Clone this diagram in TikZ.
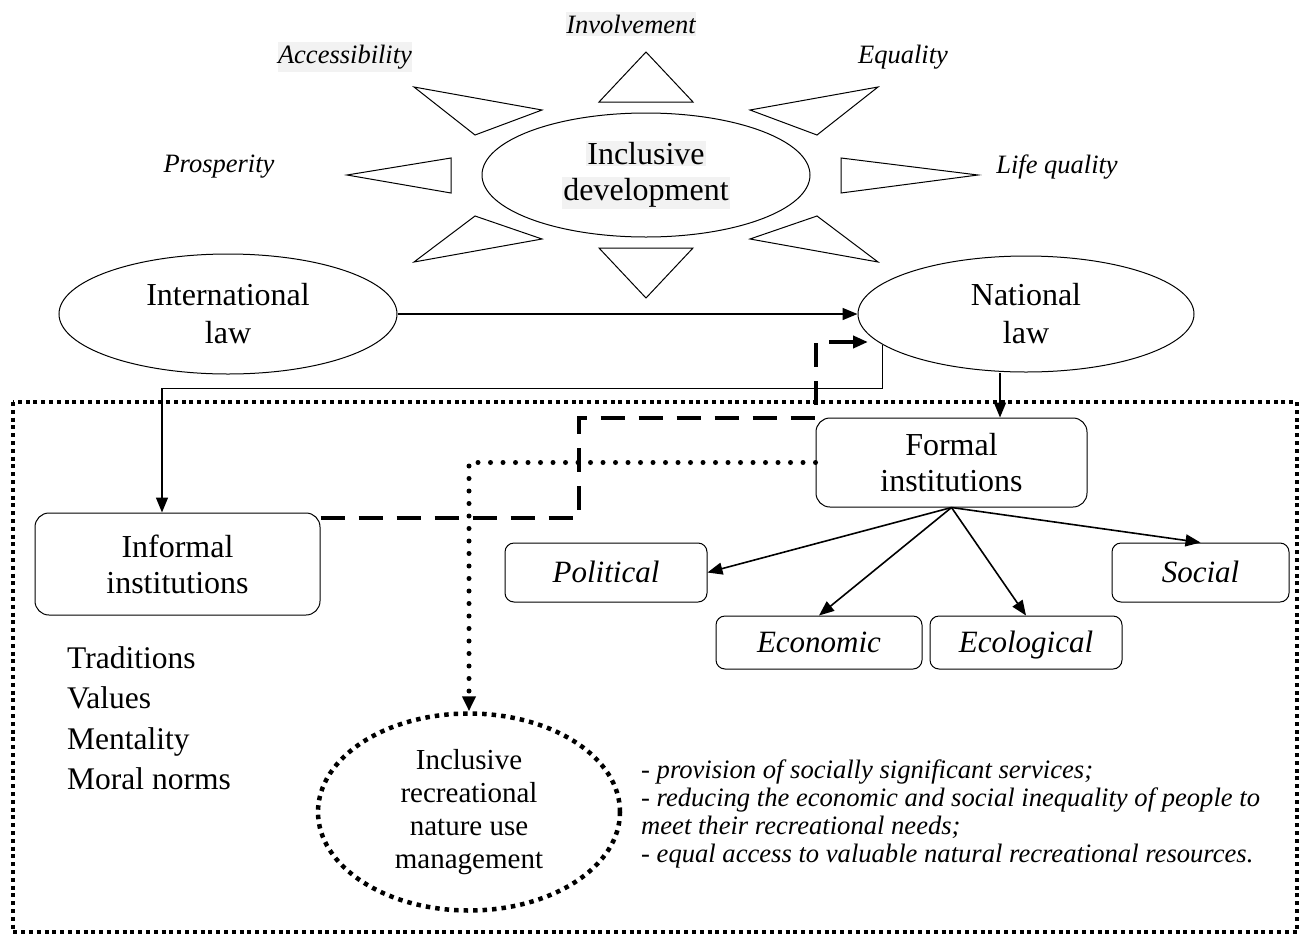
\documentclass[tikz,border=0pt]{standalone}
\usepackage{fontspec}
\setmainfont{Liberation Serif}
\usetikzlibrary{arrows.meta,shapes.geometric}
\definecolor{hl}{HTML}{F2F2F2}
\begin{document}
\begin{tikzpicture}[x=1pt,y=-1pt,
  ray/.style={draw=black, line width=1pt, line join=miter},
  oval/.style={draw, ellipse, line width=1pt, inner sep=0pt, align=center, font=\fontsize{32}{38}\selectfont},
  inst/.style={draw, rounded corners=14pt, line width=1pt, align=center, inner sep=0pt, font=\fontsize{32}{36}\selectfont},
  kind/.style={draw, rounded corners=9pt, line width=1pt, inner sep=0pt, text height=25pt, text depth=5pt, font=\fontsize{31}{35}\selectfont\itshape},
  lab/.style={font=\fontsize{26.5}{30}\selectfont\itshape, inner xsep=0pt, inner ysep=3pt},
  tip/.style={-{Triangle[length=15pt,width=12pt]}},
  arr/.style={line width=1.6pt, tip},
  dashline/.style={line width=4pt, dash pattern=on 24pt off 14pt, tip},
  dotline/.style={line width=5pt, line cap=round, dash pattern=on 0pt off 12.5pt, -{Triangle[length=15pt,width=13pt,line cap=butt]}},
  border/.style={line width=4pt, dash pattern=on 4pt off 3.8pt},
  irnstyle/.style={draw, ellipse, line width=4.5pt, dash pattern=on 4.5pt off 5pt, inner sep=0pt, align=center, font=\fontsize{29}{33}\selectfont}
]
\useasboundingbox (0,0) rectangle (1306,940);

% sun rays
\draw[ray] (646,52) -- (599,102) -- (693,102) -- cycle;
\draw[ray] (414,87) -- (542,110) -- (475,135) -- cycle;
\draw[ray] (878,87) -- (750,110) -- (817,135) -- cycle;
\draw[ray] (347,175) -- (451,158) -- (451,193) -- cycle;
\draw[ray] (978,175) -- (841,158) -- (841,193) -- cycle;
\draw[ray] (475,216) -- (542,239) -- (414,262) -- cycle;
\draw[ray] (817,216) -- (750,239) -- (878,262) -- cycle;
\draw[ray] (599,248) -- (693,248) -- (646,298) -- cycle;

% labels around the sun
\node[lab, fill=hl] (involv) at (631,24) {Involvement};
\node[lab, fill=hl] (access) at (345,57) {Accessibility};
\node[lab] (equal) at (903,57) {Equality};
\node[lab] (prosp) at (219,167) {Prosperity};
\node[lab] (lifeq) at (1057,167) {Life quality};

% central ellipse
\node[oval, minimum width=328pt, minimum height=124pt, font=\fontsize{32}{36}\selectfont] (incdev) at (646,175)
  {\setlength{\fboxsep}{1pt}\colorbox{hl}{Inclusive}\\\setlength{\fboxsep}{1pt}\colorbox{hl}{development}};

% law ellipses
\node[oval, minimum width=338pt, minimum height=120pt] (intl) at (228,314) {International\\law};
\node[oval, minimum width=336pt, minimum height=116pt] (natl) at (1026,314) {National\\law};

% outer dotted frame
\draw[border] (13,402) rectangle (1297,932);

% institutions
\node[inst, minimum width=285pt, minimum height=102pt] (informal) at (177.5,564) {Informal\\institutions};
\node[inst, minimum width=271pt, minimum height=89pt] (formal) at (951.5,462.5) {Formal\\institutions};

\node[kind, minimum width=202pt, minimum height=59pt] (political) at (606,572.5) {Political};
\node[kind, minimum width=177pt, minimum height=59pt] (social) at (1200.5,572.5) {Social};
\node[kind, minimum width=206pt, minimum height=53pt] (economic) at (819,642.5) {Economic};
\node[kind, minimum width=192pt, minimum height=53pt] (ecological) at (1026,642.5) {Ecological};

% informal list
\node[anchor=north west, align=left, inner sep=0pt, font=\fontsize{31.5}{40.5}\selectfont] (ilist) at (67,646)
  {Traditions\\Values\\Mentality\\Moral norms};

% management ellipse
\node[irnstyle, minimum width=302pt, minimum height=197pt] (irn) at (469,812)
  {Inclusive\\recreational\\nature use\\management};

% goals text
\node[anchor=north west, align=left, inner sep=0pt, font=\fontsize{26.6}{28}\selectfont\itshape] (goals) at (641,760)
  {- provision of socially significant services;\\
   - reducing the economic and social inequality of people to\\
   meet their recreational needs;\\
   - equal access to valuable natural recreational resources.};

% connectors
\coordinate (nf) at (1000,0);
\coordinate (dn) at (868,342);
\draw[arr] (intl.east) -- (natl.west);
\draw[arr] (natl.south -| nf) -- (formal.north -| nf);
\draw[arr] (natl.192) -- ++(0,44) -| ([xshift=-15.5pt]informal.north);
\draw[dashline] ([yshift=-5pt]informal.north east) -- ++(258,0) |- (formal.north west) |- (dn);
\draw[dotline] (formal.west) -| (irn.north);

\draw[arr] (formal.south) -- (political.east);
\draw[arr] (formal.south) -- (economic.north);
\draw[arr] (formal.south) -- (ecological.north);
\draw[arr] (formal.south) -- (social.north);
\end{tikzpicture}
\end{document}
